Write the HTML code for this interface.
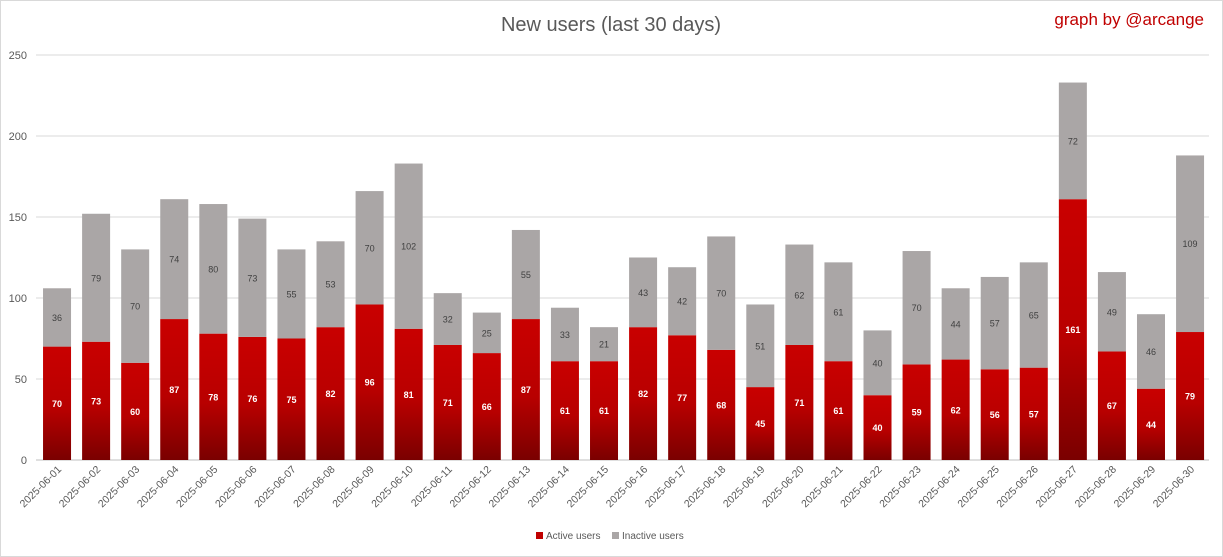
<!DOCTYPE html>
<html><head><meta charset="utf-8"><style>
body{margin:0;background:#fff;}
svg{display:block;font-family:"Liberation Sans",Calibri,sans-serif;}
</style></head><body>
<svg id="c" width="1223" height="557">
<rect x="0.5" y="0.5" width="1222" height="556" fill="#fff" stroke="#d9d9d9"/>
<defs><linearGradient id="rg" x1="0" y1="0" x2="0" y2="1"><stop offset="0" stop-color="#c90000"/><stop offset="0.55" stop-color="#b80000"/><stop offset="1" stop-color="#7a0000"/></linearGradient></defs>
<text x="611" y="31" text-anchor="middle" font-size="20" fill="#595959">New users (last 30 days)</text>
<text x="1204" y="25" text-anchor="end" font-size="17" fill="#c00000">graph by @arcange</text>
<g id="grid"></g><g id="bars"></g><g id="xl"></g>
<g>
<rect x="536" y="532" width="7" height="7" fill="#c00000"/>
<text x="546" y="539" font-size="10" fill="#595959">Active users</text>
<rect x="612" y="532" width="7" height="7" fill="#aaa6a6"/>
<text x="622" y="539" font-size="10" fill="#595959">Inactive users</text>
</g>
</svg>
<script>
const dates=[];for(let i=1;i<=30;i++)dates.push('2025-06-'+String(i).padStart(2,'0'));
const active=[70,73,60,87,78,76,75,82,96,81,71,66,87,61,61,82,77,68,45,71,61,40,59,62,56,57,161,67,44,79];
const inactive=[36,79,70,74,80,73,55,53,70,102,32,25,55,33,21,43,42,70,51,62,61,40,70,44,57,65,72,49,46,109];
const yTicks=[0,50,100,150,200,250];
const NS='http://www.w3.org/2000/svg';
const x0=37.5,band=39.07,bw=28,y0=460,k=1.62;
const y=v=>y0-v*k, xc=i=>x0+band*(i+0.5);
function mk(t,a,p){const e=document.createElementNS(NS,t);for(const n in a)e.setAttribute(n,a[n]);p.appendChild(e);return e;}
const grid=document.getElementById('grid'),bars=document.getElementById('bars'),xl=document.getElementById('xl');
yTicks.forEach(v=>{
 const l=mk('line',{x1:36,x2:1209,y1:y(v),y2:y(v),stroke:v?'#d9d9d9':'#bfbfbf'},grid);
 
 
 const t=mk('text',{x:27,y:y(v)+4,'text-anchor':'end','font-size':11,fill:'#595959'},grid);
 t.textContent=v;
 
 
});
dates.forEach((d,i)=>{
 const cx=xc(i),a=active[i],b=inactive[i];
 const r1=mk('rect',{x:cx-bw/2,y:y(a),width:bw,height:a*k,fill:'url(#rg)'},bars);
 
 
 const r2=mk('rect',{x:cx-bw/2,y:y(a+b),width:bw,height:b*k,fill:'#aaa6a6'},bars);
 
 
 const t1=mk('text',{x:cx,y:y(a/2)+3.5,'text-anchor':'middle','font-size':9,'font-weight':'bold',fill:'#fff'},bars);
 t1.textContent=a;
 
 
 const t2=mk('text',{x:cx,y:y(a+b/2)+3.5,'text-anchor':'middle','font-size':9,fill:'#404040'},bars);
 t2.textContent=b;
 
 
 const tl=mk('text',{x:cx+5,y:470,'text-anchor':'end','font-size':10.5,fill:'#595959',transform:`rotate(-45 ${cx+5} 470)`},xl);
 tl.textContent=d;
 
 
});
</script>
</body></html>
